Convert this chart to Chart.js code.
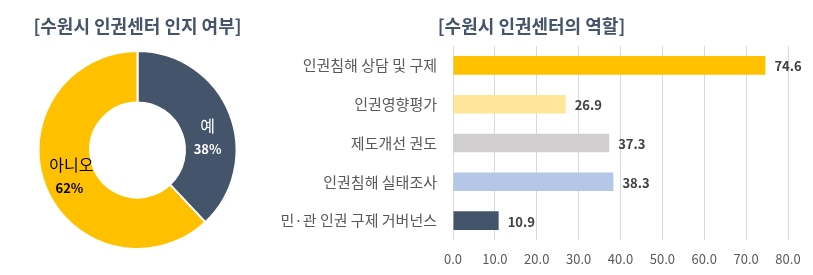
<!DOCTYPE html>
<html><head><meta charset="utf-8">
<script src="https://cdn.jsdelivr.net/npm/chart.js@4"></script>
<style>
html,body{margin:0;padding:0;background:#fff;}
#wrap{position:relative;width:813px;height:275px;}
#c1{position:absolute;left:0;top:0;}
#c2{position:absolute;left:275px;top:0;}
</style></head><body>
<div id="wrap">
<canvas id="c1" width="275" height="275"></canvas>
<canvas id="c2" width="538" height="275"></canvas>
</div>
<script>
// Data
const pieTitle = '[수원시 인권센터 인지 여부]';
const pieLabels = ['예', '아니오'];
const pieValues = [38, 62];
const barTitle = '[수원시 인권센터의 역할]';
const barLabels = ['인권침해 상담 및 구제', '인권영향평가', '제도개선 권도', '인권침해 실태조사', '민·관 인권 구제 거버넌스'];
const barValues = [74.6, 26.9, 37.3, 38.3, 10.9];
const xTicks = [0, 10, 20, 30, 40, 50, 60, 70, 80];

const FONT = '"Noto Sans CJK KR", "Malgun Gothic", sans-serif';
Chart.defaults.font.family = FONT;

const pieLabelPlugin = {
  id: 'pieLabels',
  afterDatasetsDraw(chart) {
    const ctx = chart.ctx;
    const meta = chart.getDatasetMeta(0);
    const colors = ['#ffffff', '#000000'];
    const offs = [[2, 15], [2, 0]];
    meta.data.forEach((arc, i) => {
      const p = arc.tooltipPosition();
      const x = p.x + offs[i][0], y = p.y + offs[i][1];
      ctx.save();
      ctx.fillStyle = colors[i];
      ctx.textAlign = 'center';
      ctx.textBaseline = 'middle';
      ctx.font = '16px ' + FONT;
      ctx.fillText(pieLabels[i], x, y - 12);
      ctx.font = 'bold 13px ' + FONT;
      ctx.fillText(pieValues[i] + '%', x - (i === 1 ? 2 : 0), y + 11);
      ctx.restore();
    });
  }
};

new Chart(document.getElementById('c1'), {
  type: 'doughnut',
  data: {
    labels: pieLabels,
    datasets: [{
      data: pieValues,
      backgroundColor: ['#44546A', '#FFC000'],
      borderColor: '#ffffff',
      borderWidth: 2
    }]
  },
  options: {
    responsive: false,
    animation: false,
    cutout: '48%',
    layout: { padding: { bottom: 25 } },
    plugins: {
      legend: { display: false },
      tooltip: { enabled: false },
      title: {
        display: true, text: pieTitle, color: '#44546A',
        font: { size: 18, weight: 'bold', family: FONT, lineHeight: 1.2 },
        padding: { top: 15, bottom: 13.4 }
      }
    }
  },
  plugins: [pieLabelPlugin]
});

const barLabelPlugin = {
  id: 'barLabels',
  afterDatasetsDraw(chart) {
    const ctx = chart.ctx;
    const meta = chart.getDatasetMeta(0);
    ctx.save();
    ctx.fillStyle = '#404040';
    ctx.font = 'bold 13px ' + FONT;
    ctx.textAlign = 'left';
    ctx.textBaseline = 'middle';
    meta.data.forEach((bar, i) => {
      ctx.fillText(barValues[i].toFixed(1), bar.x + 9, bar.y + 1);
    });
    ctx.restore();
  }
};

new Chart(document.getElementById('c2'), {
  type: 'bar',
  data: {
    labels: barLabels,
    datasets: [{
      data: barValues,
      backgroundColor: ['#FFC000', '#FFE699', '#D0CECE', '#B4C7E7', '#44546A'],
      barPercentage: 0.48,
      categoryPercentage: 1
    }]
  },
  options: {
    indexAxis: 'y',
    responsive: false,
    animation: false,
    layout: { padding: { left: 0, right: 25, bottom: 0 } },
    scales: {
      x: {
        min: 0, max: 80,
        afterBuildTicks(scale) { scale.ticks = xTicks.map(v => ({ value: v })); },
        afterFit(scale) { scale.height = 35; },
        grid: { color: '#D9D9D9', drawTicks: false, lineWidth: 1 },
        border: { display: false },
        ticks: {
          color: '#595959', padding: 11,
          font: { size: 13, family: FONT },
          callback: v => Number(v).toFixed(1)
        }
      },
      y: {
        afterFit(scale) { scale.width = 178; },
        grid: { display: false },
        border: { display: false },
        ticks: {
          color: '#595959', padding: 8,
          font: { size: 15, family: FONT }
        }
      }
    },
    plugins: {
      legend: { display: false },
      tooltip: { enabled: false },
      title: {
        display: true, text: barTitle, color: '#44546A',
        font: { size: 18, weight: 'bold', family: FONT, lineHeight: 1.2 },
        padding: { top: 15, bottom: 9.4 }
      }
    }
  },
  plugins: [barLabelPlugin]
});
</script>
</body></html>
